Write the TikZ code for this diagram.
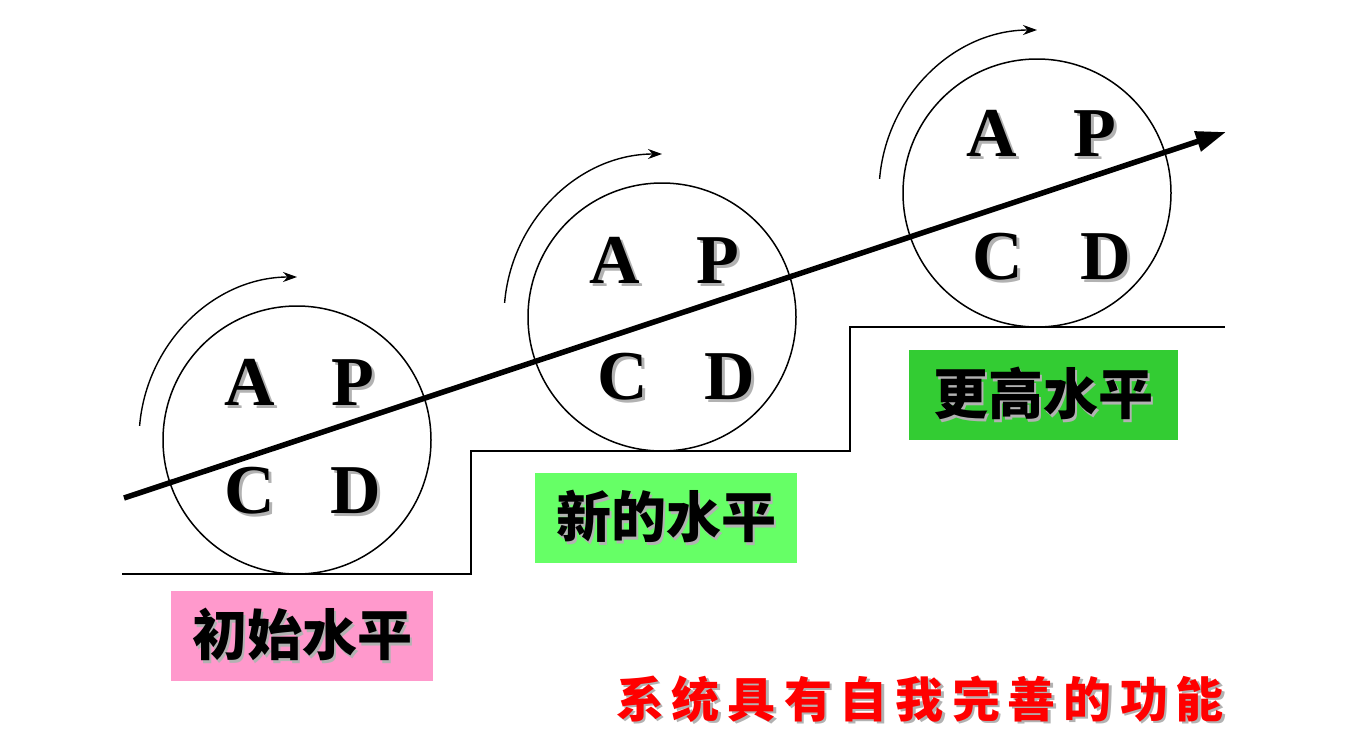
\documentclass[tikz,border=0pt]{standalone}
\usepackage{fontspec}
\setmainfont{Liberation Serif}
\newfontfamily\cjk{Noto Sans CJK SC}
\usepackage{tikz}
\usetikzlibrary{arrows.meta, positioning}

\definecolor{levelpink}{HTML}{FF99CC}
\definecolor{levelgreen}{HTML}{66FF66}
\definecolor{leveldark}{HTML}{33CC33}

% text with a soft drop shadow
\newcommand{\shadowed}[1]{\makebox[0pt][l]{\kern2.5pt\raisebox{-2.5pt}{\textcolor{black!30}{#1}}}#1}
\newcommand{\cgap}{\hspace{8pt}}

\begin{document}
\begin{tikzpicture}[
    x=1pt, y=-1pt,
    cycle/.style={circle, draw, line width=1.5pt, minimum size=268pt, inner sep=0pt},
    letter/.style={font=\fontsize{70}{70}\selectfont\bfseries, inner sep=0pt},
    levelbox/.style={minimum width=262pt, minimum height=90pt, inner sep=0pt, font=\cjk\bfseries\fontsize{55}{55}\selectfont},
    rotarrow/.style={line width=1.4pt, -{Stealth[length=14pt, width=10pt]}},
    mainarrow/.style={line width=5.5pt, -{Triangle[length=30pt, width=20pt]}},
    stair/.style={line width=1.5pt}
]
\useasboundingbox (0,0) rectangle (1361,744);

% the three PDCA circles
\node[cycle] (c1) at (297,440) {};
\node[cycle] (c2) at (662,317) {};
\node[cycle] (c3) at (1037,193) {};

\node[letter] (a1) at (250,384) {\shadowed{A}};
\node[letter] (p1) at (353,384) {\shadowed{P}};
\node[letter] (k1) at (250,492) {\shadowed{C}};
\node[letter] (d1) at (356,492) {\shadowed{D}};

\node[letter] (a2) at (615,262) {\shadowed{A}};
\node[letter] (p2) at (718,262) {\shadowed{P}};
\node[letter] (k2) at (623,378) {\shadowed{C}};
\node[letter] (d2) at (730,378) {\shadowed{D}};

\node[letter] (a3) at (992,135) {\shadowed{A}};
\node[letter] (p3) at (1095,135) {\shadowed{P}};
\node[letter] (k3) at (998,258) {\shadowed{C}};
\node[letter] (d3) at (1106,258) {\shadowed{D}};

% turning arrows over each circle
\draw[rotarrow] ([shift={(185:158 and 163)}]c1.center) arc[start angle=185, end angle=270, x radius=158, y radius=163];
\draw[rotarrow] ([shift={(185:158 and 163)}]c2.center) arc[start angle=185, end angle=270, x radius=158, y radius=163];
\draw[rotarrow] ([shift={(185:158 and 163)}]c3.center) arc[start angle=185, end angle=270, x radius=158, y radius=163];

% stairs
\draw[stair] (122,574) -- (471,574) -- (471,451) -- (850,451) -- (850,327) -- (1225,327);

% rising arrow
\coordinate (rise0) at (124,498);
\coordinate (rise1) at (1226,132);
\draw[mainarrow] (rise0) -- (rise1);

% level labels
\node[levelbox, fill=levelpink] (lv1) at (302,636) {\shadowed{初始水平}};
\node[levelbox, fill=levelgreen] (lv2) at (666,518) {\shadowed{新的水平}};
\node[levelbox, fill=leveldark, minimum width=269pt] (lv3) at (1043,395) {\shadowed{更高水平}};

% caption
\node[font=\cjk\bfseries\fontsize{48}{48}\selectfont, text=red, inner sep=0pt] (motto) at (920,700)
    {\shadowed{系\cgap 统\cgap 具\cgap 有\cgap 自\cgap 我\cgap 完\cgap 善\cgap 的\cgap 功\cgap 能}};

\end{tikzpicture}
\end{document}
